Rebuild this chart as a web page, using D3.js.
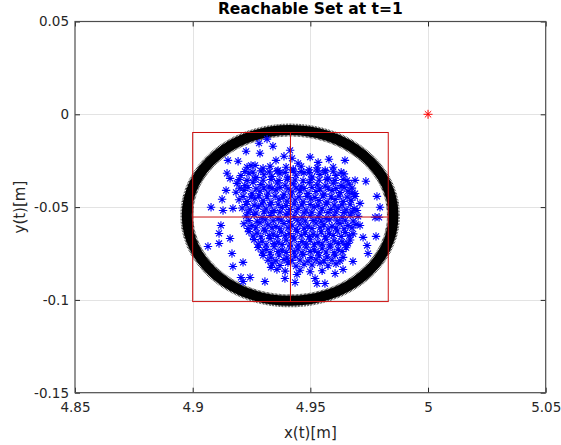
<!DOCTYPE html>
<html>
<head>
<meta charset="utf-8">
<script src="https://cdn.jsdelivr.net/npm/d3@7"></script>
<style>
  html, body { margin: 0; padding: 0; background: #fff; }
  svg { display: block; font-family: "DejaVu Sans", sans-serif; }
</style>
</head>
<body>
<svg id="chart" width="561" height="445"></svg>
<script>
// Axis ticks
const xTicks = [4.85, 4.9, 4.95, 5, 5.05];
const xTickLabels = ["4.85", "4.9", "4.95", "5", "5.05"];
const yTicks = [0.05, 0, -0.05, -0.1, -0.15];
const yTickLabels = ["0.05", "0", "-0.05", "-0.1", "-0.15"];

// Reachable-set boundary (centre and semi-axes, metres)
const ringCenter = [4.9414, -0.0545];
const ringRadius = [0.0439, 0.0460];

// Bounding box of the sampled end states
const boxX = [4.9, 4.9831];
const boxY = [-0.1009, -0.0098];

// Target point
const target = [5, 0];

// Sampled end states, sparse outer samples
const samplesOuter = [
  [4.9316,-0.0134],[4.9282,-0.0156],[4.9341,-0.0172],[4.9227,-0.0199],[4.9388,-0.0226],
  [4.9286,-0.0210],[4.9150,-0.0248],[4.9193,-0.0253],[4.9414,-0.0194],[4.9499,-0.0231],
  [4.9579,-0.0242],[4.9647,-0.0248],[4.9448,-0.0264],[4.9248,-0.0275],[4.9146,-0.0318],
  [4.9159,-0.0345],[4.9690,-0.0356],[4.9736,-0.0361],[4.9783,-0.0442],[4.9796,-0.0501],
  [4.9775,-0.0555],[4.9792,-0.0555],[4.9078,-0.0501],[4.9129,-0.0518],[4.9171,-0.0507],
  [4.9120,-0.0599],[4.9112,-0.0642],[4.9065,-0.0712],[4.9112,-0.0696],[4.9159,-0.0669],
  [4.9167,-0.0750],[4.9171,-0.0820],[4.9214,-0.0798],[4.9205,-0.0879],[4.9214,-0.0901],
  [4.9244,-0.0879],[4.9307,-0.0901],[4.9358,-0.0836],[4.9333,-0.0825],[4.9435,-0.0906],
  [4.9443,-0.0863],[4.9520,-0.0885],[4.9528,-0.0912],[4.9562,-0.0912],[4.9605,-0.0858],
  [4.9639,-0.0836],[4.9681,-0.0793],[4.9741,-0.0707],[4.9745,-0.0750],[4.9779,-0.0658],
  [4.9711,-0.0599],[4.9724,-0.0663],[4.9660,-0.0696],[4.9711,-0.0480],[4.9698,-0.0518],
  [4.9677,-0.0426],[4.9392,-0.0885],[4.9142,-0.0410],[4.9125,-0.0458]
];

// Sampled end states, dense core
const samplesCore = [
  [4.9231,-0.0285],[4.9265,-0.0275],[4.9354,-0.0248],[4.9422,-0.0237],[4.9533,-0.0259],
  [4.9299,-0.0291],[4.9329,-0.0280],[4.9363,-0.0302],[4.9397,-0.0285],[4.9427,-0.0296],
  [4.9461,-0.0280],[4.9495,-0.0299],[4.9529,-0.0288],[4.9563,-0.0302],[4.9597,-0.0285],

  [4.9222,-0.0308],[4.9256,-0.0312],[4.9290,-0.0305],[4.9325,-0.0310],[4.9359,-0.0306],
  [4.9393,-0.0313],[4.9427,-0.0304],[4.9461,-0.0309],[4.9495,-0.0314],[4.9529,-0.0306],
  [4.9563,-0.0311],[4.9597,-0.0307],[4.9631,-0.0312],

  [4.9205,-0.0330],[4.9239,-0.0318],[4.9269,-0.0340],[4.9303,-0.0326],[4.9337,-0.0335],
  [4.9371,-0.0320],[4.9405,-0.0342],[4.9439,-0.0328],[4.9473,-0.0316],[4.9507,-0.0338],
  [4.9541,-0.0324],[4.9575,-0.0344],[4.9609,-0.0330],[4.9643,-0.0321],

  [4.9197,-0.0352],[4.9231,-0.0356],[4.9265,-0.0349],[4.9299,-0.0355],[4.9333,-0.0351],
  [4.9367,-0.0357],[4.9401,-0.0350],[4.9435,-0.0354],[4.9469,-0.0358],[4.9503,-0.0350],
  [4.9537,-0.0355],[4.9571,-0.0352],[4.9605,-0.0357],[4.9639,-0.0351],[4.9656,-0.0356],

  [4.9188,-0.0372],[4.9222,-0.0384],[4.9256,-0.0366],[4.9290,-0.0379],[4.9325,-0.0388],
  [4.9359,-0.0370],[4.9393,-0.0382],[4.9427,-0.0375],[4.9461,-0.0390],[4.9495,-0.0368],
  [4.9529,-0.0380],[4.9563,-0.0386],[4.9597,-0.0371],[4.9631,-0.0383],[4.9665,-0.0376],

  [4.9201,-0.0398],[4.9235,-0.0394],[4.9269,-0.0401],[4.9303,-0.0396],[4.9337,-0.0400],
  [4.9371,-0.0395],[4.9405,-0.0402],[4.9439,-0.0397],[4.9473,-0.0399],[4.9507,-0.0394],
  [4.9541,-0.0401],[4.9575,-0.0396],[4.9609,-0.0400],[4.9643,-0.0395],[4.9677,-0.0398],

  [4.9184,-0.0420],[4.9218,-0.0410],[4.9252,-0.0428],[4.9286,-0.0415],[4.9320,-0.0424],
  [4.9354,-0.0408],[4.9388,-0.0431],[4.9422,-0.0418],[4.9456,-0.0412],[4.9490,-0.0426],
  [4.9524,-0.0416],[4.9558,-0.0430],[4.9592,-0.0411],[4.9626,-0.0422],[4.9660,-0.0414],
  [4.9690,-0.0427],

  [4.9214,-0.0442],[4.9248,-0.0446],[4.9282,-0.0439],[4.9316,-0.0444],[4.9350,-0.0441],
  [4.9384,-0.0447],[4.9418,-0.0440],[4.9452,-0.0445],[4.9486,-0.0442],[4.9520,-0.0448],
  [4.9554,-0.0439],[4.9588,-0.0444],[4.9622,-0.0441],[4.9656,-0.0446],[4.9690,-0.0443],

  [4.9197,-0.0460],[4.9231,-0.0470],[4.9265,-0.0455],[4.9299,-0.0466],[4.9333,-0.0474],
  [4.9367,-0.0458],[4.9401,-0.0468],[4.9435,-0.0462],[4.9469,-0.0472],[4.9503,-0.0456],
  [4.9537,-0.0465],[4.9571,-0.0473],[4.9605,-0.0459],[4.9639,-0.0469],[4.9673,-0.0463],

  [4.9227,-0.0486],[4.9261,-0.0490],[4.9295,-0.0483],[4.9329,-0.0488],[4.9363,-0.0485],
  [4.9397,-0.0491],[4.9431,-0.0484],[4.9465,-0.0489],[4.9499,-0.0486],[4.9533,-0.0490],
  [4.9567,-0.0484],[4.9601,-0.0489],[4.9635,-0.0488],[4.9669,-0.0485],

  [4.9210,-0.0505],[4.9244,-0.0514],[4.9278,-0.0498],[4.9312,-0.0510],[4.9346,-0.0518],
  [4.9380,-0.0502],[4.9414,-0.0512],[4.9448,-0.0506],[4.9482,-0.0516],[4.9516,-0.0500],
  [4.9550,-0.0509],[4.9587,-0.0513],[4.9618,-0.0504],[4.9652,-0.0515],[4.9686,-0.0508],

  [4.9235,-0.0528],[4.9269,-0.0532],[4.9303,-0.0525],[4.9337,-0.0530],[4.9371,-0.0527],
  [4.9405,-0.0533],[4.9439,-0.0526],[4.9473,-0.0531],[4.9507,-0.0528],[4.9541,-0.0532],
  [4.9575,-0.0530],[4.9609,-0.0526],[4.9643,-0.0530],[4.9677,-0.0527],

  [4.9227,-0.0548],[4.9261,-0.0540],[4.9295,-0.0556],[4.9329,-0.0545],[4.9363,-0.0560],
  [4.9397,-0.0542],[4.9431,-0.0552],[4.9465,-0.0558],[4.9499,-0.0544],[4.9533,-0.0554],
  [4.9567,-0.0561],[4.9601,-0.0547],[4.9635,-0.0555],[4.9669,-0.0543],[4.9703,-0.0550],

  [4.9239,-0.0572],[4.9274,-0.0576],[4.9308,-0.0569],[4.9342,-0.0574],[4.9376,-0.0571],
  [4.9410,-0.0577],[4.9444,-0.0570],[4.9478,-0.0575],[4.9512,-0.0572],[4.9546,-0.0576],
  [4.9580,-0.0569],[4.9614,-0.0574],[4.9648,-0.0571],[4.9682,-0.0575],

  [4.9218,-0.0590],[4.9252,-0.0600],[4.9286,-0.0585],[4.9320,-0.0596],[4.9354,-0.0604],
  [4.9388,-0.0588],[4.9422,-0.0598],[4.9456,-0.0592],[4.9490,-0.0602],[4.9524,-0.0586],
  [4.9558,-0.0595],[4.9592,-0.0603],[4.9626,-0.0589],[4.9660,-0.0599],[4.9694,-0.0593],

  [4.9235,-0.0615],[4.9269,-0.0611],[4.9303,-0.0618],[4.9337,-0.0613],[4.9371,-0.0617],
  [4.9405,-0.0612],[4.9439,-0.0619],[4.9473,-0.0614],[4.9507,-0.0616],[4.9541,-0.0611],
  [4.9575,-0.0618],[4.9609,-0.0613],[4.9643,-0.0617],[4.9677,-0.0612],

  [4.9239,-0.0632],[4.9274,-0.0640],[4.9308,-0.0628],[4.9342,-0.0645],[4.9376,-0.0635],
  [4.9410,-0.0642],[4.9444,-0.0630],[4.9478,-0.0638],[4.9512,-0.0646],[4.9546,-0.0633],
  [4.9580,-0.0641],[4.9614,-0.0629],[4.9648,-0.0637],[4.9682,-0.0644],

  [4.9256,-0.0656],[4.9290,-0.0660],[4.9325,-0.0653],[4.9359,-0.0658],[4.9393,-0.0655],
  [4.9427,-0.0661],[4.9461,-0.0654],[4.9495,-0.0659],[4.9529,-0.0656],[4.9563,-0.0660],
  [4.9597,-0.0653],[4.9631,-0.0658],[4.9665,-0.0655],

  [4.9261,-0.0675],[4.9295,-0.0684],[4.9329,-0.0670],[4.9363,-0.0688],[4.9397,-0.0678],
  [4.9431,-0.0672],[4.9465,-0.0686],[4.9499,-0.0676],[4.9533,-0.0690],[4.9567,-0.0673],
  [4.9601,-0.0682],[4.9635,-0.0687],[4.9669,-0.0677],

  [4.9278,-0.0700],[4.9312,-0.0704],[4.9346,-0.0697],[4.9380,-0.0702],[4.9414,-0.0699],
  [4.9448,-0.0705],[4.9482,-0.0698],[4.9516,-0.0703],[4.9550,-0.0700],[4.9584,-0.0704],
  [4.9618,-0.0697],[4.9652,-0.0702],

  [4.9278,-0.0718],[4.9312,-0.0728],[4.9346,-0.0714],[4.9380,-0.0732],[4.9414,-0.0720],
  [4.9448,-0.0726],[4.9482,-0.0716],[4.9516,-0.0730],[4.9550,-0.0722],[4.9584,-0.0715],
  [4.9618,-0.0727],[4.9652,-0.0719],

  [4.9295,-0.0742],[4.9329,-0.0746],[4.9363,-0.0739],[4.9397,-0.0744],[4.9431,-0.0741],
  [4.9465,-0.0747],[4.9499,-0.0740],[4.9533,-0.0745],[4.9567,-0.0742],[4.9601,-0.0746],
  [4.9635,-0.0740],

  [4.9299,-0.0760],[4.9333,-0.0770],[4.9367,-0.0758],[4.9401,-0.0774],[4.9435,-0.0764],
  [4.9469,-0.0756],[4.9503,-0.0772],[4.9537,-0.0762],[4.9571,-0.0768],[4.9605,-0.0759],
  [4.9639,-0.0771],

  [4.9320,-0.0786],[4.9354,-0.0790],[4.9388,-0.0783],[4.9422,-0.0788],[4.9456,-0.0785],
  [4.9490,-0.0791],[4.9524,-0.0784],[4.9558,-0.0789],[4.9592,-0.0786],[4.9626,-0.0790],

  [4.9337,-0.0805],[4.9371,-0.0815],[4.9405,-0.0800],[4.9439,-0.0818],[4.9473,-0.0808],
  [4.9507,-0.0812],[4.9541,-0.0802],[4.9575,-0.0816],[4.9609,-0.0806],

  [4.9393,-0.0845],[4.9456,-0.0840],[4.9499,-0.0848],[4.9550,-0.0843]
];

const W = 561, H = 445;
const plot = { left: 75, right: 545.7, top: 21.5, bottom: 392.7 };

const svg = d3.select("#chart");
svg.append("rect").attr("width", W).attr("height", H).attr("fill", "#fff");

const x = d3.scaleLinear().domain([4.85, 5.05]).range([plot.left, plot.right]);
const y = d3.scaleLinear().domain([-0.15, 0.05]).range([plot.bottom, plot.top]);

// Grid
const grid = svg.append("g").attr("stroke", "#e3e3e3").attr("stroke-width", 1);
grid.selectAll("line.gx").data(xTicks.slice(1, -1)).join("line")
  .attr("x1", d => Math.round(x(d)) + 0.5).attr("x2", d => Math.round(x(d)) + 0.5)
  .attr("y1", plot.top).attr("y2", plot.bottom);
grid.selectAll("line.gy").data(yTicks.slice(1, -1)).join("line")
  .attr("y1", d => Math.round(y(d)) + 0.5).attr("y2", d => Math.round(y(d)) + 0.5)
  .attr("x1", plot.left).attr("x2", plot.right);

// Asterisk marker (plus + cross)
function asterisk(r) {
  const a = r * 0.7071;
  return `M0,${-r}V${r}M${-r},0H${r}M${-a},${-a}L${a},${a}M${-a},${a}L${a},${-a}`;
}

// Reachable-set boundary ring
const cx = x(ringCenter[0]), cy = y(ringCenter[1]);
const rx = x(ringCenter[0] + ringRadius[0]) - cx;
const ry = cy - y(ringCenter[1] + ringRadius[1]);
svg.append("ellipse")
  .attr("cx", cx).attr("cy", cy).attr("rx", rx).attr("ry", ry)
  .attr("fill", "none").attr("stroke", "#000").attr("stroke-width", 10);
svg.append("ellipse")
  .attr("cx", cx).attr("cy", cy).attr("rx", rx).attr("ry", ry)
  .attr("fill", "none").attr("stroke", "#000").attr("stroke-width", 13)
  .attr("stroke-dasharray", "0.6 0.8");

// Sampled end states
const samples = samplesOuter.concat(samplesCore);
svg.append("g")
  .selectAll("path").data(samples).join("path")
  .attr("transform", d => `translate(${x(d[0])},${y(d[1])})`)
  .attr("d", asterisk(4.2))
  .attr("fill", "none").attr("stroke", "#0000ff").attr("stroke-width", 1.1);

// Bounding box and its centre lines
const red = "#cc1010";
const bx0 = x(boxX[0]), bx1 = x(boxX[1]);
const by0 = y(boxY[1]), by1 = y(boxY[0]);
const mx = x((boxX[0] + boxX[1]) / 2), my = y((boxY[0] + boxY[1]) / 2);
svg.append("rect")
  .attr("x", bx0).attr("y", by0).attr("width", bx1 - bx0).attr("height", by1 - by0)
  .attr("fill", "none").attr("stroke", red).attr("stroke-width", 1);
svg.append("line").attr("x1", mx).attr("x2", mx).attr("y1", by0).attr("y2", by1)
  .attr("stroke", red).attr("stroke-width", 1);
svg.append("line").attr("x1", bx0).attr("x2", bx1).attr("y1", my).attr("y2", my)
  .attr("stroke", red).attr("stroke-width", 1);

// Target
svg.append("path")
  .attr("transform", `translate(${x(target[0])},${y(target[1])})`)
  .attr("d", asterisk(4.5))
  .attr("fill", "none").attr("stroke", "#ff0000").attr("stroke-width", 1);

// Axes
const axisColor = "#262626";
const fmtX = d => xTickLabels[xTicks.indexOf(d)];
const fmtY = d => yTickLabels[yTicks.indexOf(d)];

function styleAxis(g, showText) {
  g.select(".domain").remove();
  g.selectAll(".tick line").attr("stroke", axisColor);
  g.selectAll(".tick text").attr("fill", axisColor).style("font-size", "13.5px")
    .style("font-family", "'DejaVu Sans', sans-serif");
  if (!showText) g.selectAll(".tick text").remove();
}

svg.append("g").attr("transform", `translate(0,${plot.bottom})`)
  .call(d3.axisBottom(x).tickValues(xTicks).tickFormat(fmtX).tickSizeInner(-5).tickPadding(10))
  .call(g => styleAxis(g, true));
svg.append("g").attr("transform", `translate(0,${plot.top})`)
  .call(d3.axisTop(x).tickValues(xTicks).tickSizeInner(-5))
  .call(g => styleAxis(g, false));
svg.append("g").attr("transform", `translate(${plot.left},0)`)
  .call(d3.axisLeft(y).tickValues(yTicks).tickFormat(fmtY).tickSizeInner(-5).tickPadding(6))
  .call(g => styleAxis(g, true));
svg.append("g").attr("transform", `translate(${plot.right},0)`)
  .call(d3.axisRight(y).tickValues(yTicks).tickSizeInner(-5))
  .call(g => styleAxis(g, false));

svg.append("rect")
  .attr("x", plot.left).attr("y", plot.top)
  .attr("width", plot.right - plot.left).attr("height", plot.bottom - plot.top)
  .attr("fill", "none").attr("stroke", "#4d4d4d").attr("stroke-width", 1.2);

// Titles
svg.append("text")
  .attr("x", (plot.left + plot.right) / 2).attr("y", 13.5)
  .attr("text-anchor", "middle").attr("fill", "#000")
  .style("font-size", "15.5px").style("font-weight", "bold")
  .text("Reachable Set at t=1");
svg.append("text")
  .attr("x", (plot.left + plot.right) / 2).attr("y", 438)
  .attr("text-anchor", "middle").attr("fill", axisColor)
  .style("font-size", "15px")
  .text("x(t)[m]");
svg.append("text")
  .attr("transform", `translate(25,${(plot.top + plot.bottom) / 2}) rotate(-90)`)
  .attr("text-anchor", "middle").attr("fill", axisColor)
  .style("font-size", "15px")
  .text("y(t)[m]");
</script>
</body>
</html>
